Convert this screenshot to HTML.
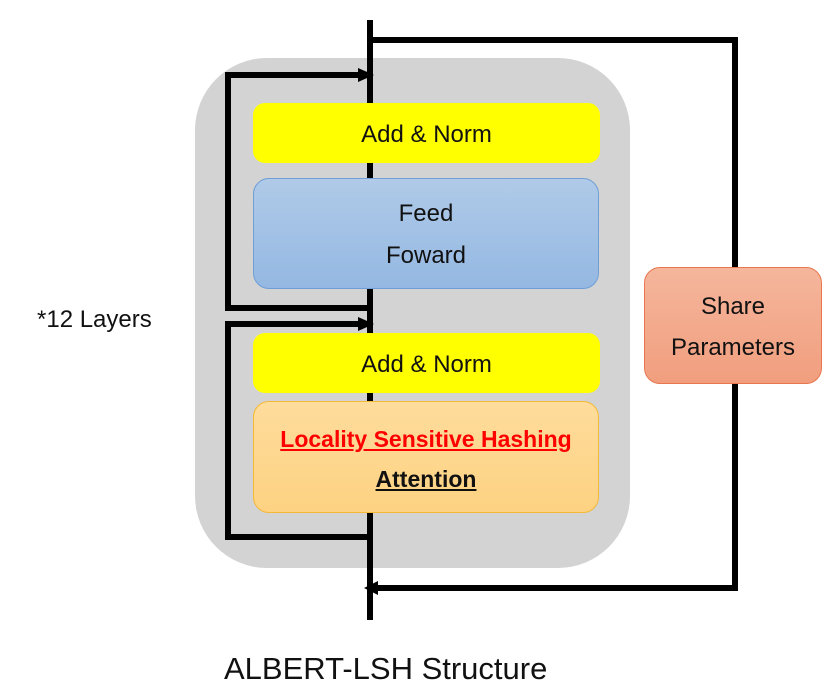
<!DOCTYPE html>
<html><head><style>
body{margin:0;width:829px;height:697px;background:#fff;position:relative;overflow:hidden;font-family:"Liberation Sans",sans-serif;}
.b{position:absolute;box-sizing:border-box;text-align:center;font-size:24px;color:#111;}
</style></head><body>
<div class="b" style="left:195px;top:58px;width:435px;height:510px;background:#d3d3d3;border-radius:72px;"></div>
<svg width="829" height="697" style="position:absolute;left:0;top:0">
<g stroke="#000" stroke-width="6" fill="none">
<line x1="370" y1="20" x2="370" y2="620"/>
<polyline points="370,40 735,40 735,588 376,588"/>
<polyline points="370,308 228,308 228,75 362,75"/>
<polyline points="370,537 228,537 228,324 362,324"/>
</g>
<g fill="#000">
<polygon points="374,75 358,68 358,82"/>
<polygon points="374,324 358,317 358,331"/>
<polygon points="364,588 378,581 378,595"/>
</g>
</svg>
<div class="b" style="left:253px;top:103px;width:347px;height:60px;background:#ffff00;border-radius:12px;line-height:64px;">Add &amp; Norm</div>
<div class="b" style="left:253px;top:178px;width:346px;height:111px;background:linear-gradient(#b0cae8,#94b8e2);border:1px solid #6f9fd6;border-radius:16px;padding-top:14px;line-height:42px;">Feed<br>Foward</div>
<div class="b" style="left:253px;top:333px;width:347px;height:60px;background:#ffff00;border-radius:12px;line-height:64px;">Add &amp; Norm</div>
<div class="b" style="left:253px;top:401px;width:346px;height:112px;background:linear-gradient(#fedc9c,#fdd282);border:1px solid #f5b935;border-radius:16px;padding-top:17px;line-height:40px;font-weight:bold;font-size:23px;"><span style="color:#f00;text-decoration:underline">Locality Sensitive Hashing</span><br><span style="text-decoration:underline">Attention</span></div>
<div class="b" style="left:644px;top:267px;width:178px;height:117px;background:linear-gradient(#f5b69c,#f19e7e);border:1px solid #e8774f;border-radius:16px;padding-top:18px;line-height:41px;">Share<br>Parameters</div>
<div class="b" style="left:37px;top:306px;font-size:24px;text-align:left;">*12 Layers</div>
<div class="b" style="left:224px;top:651px;font-size:31px;text-align:left;">ALBERT-LSH Structure</div>
</body></html>
